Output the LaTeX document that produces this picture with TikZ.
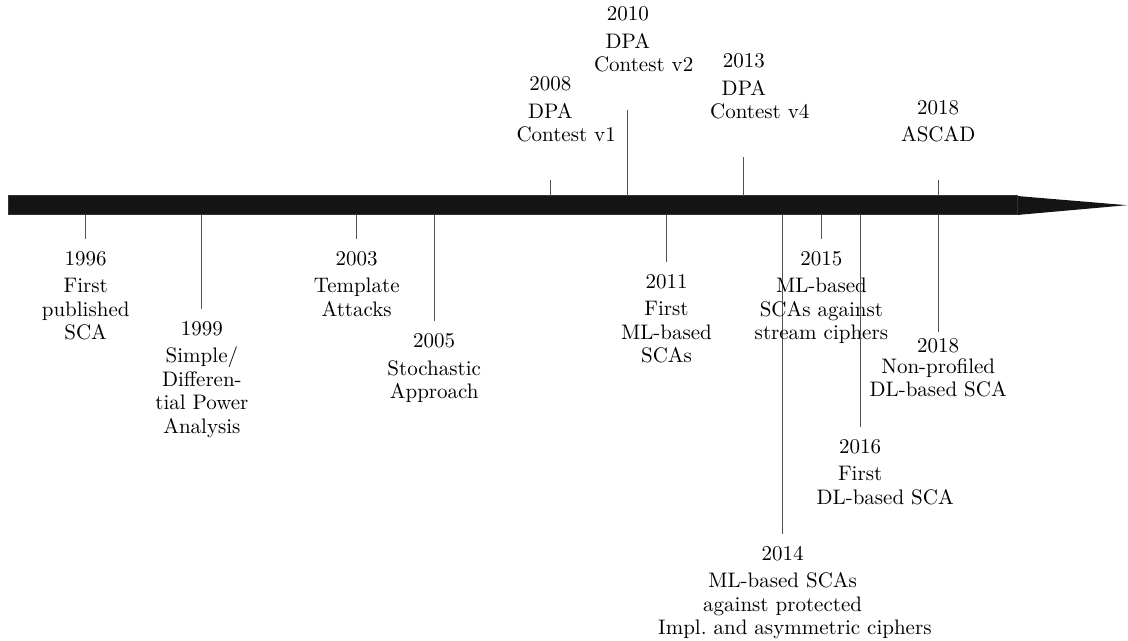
\documentclass[tikz,border=0pt]{standalone}
% event label fonts
\newcommand{\evfont}{\fontsize{10.5pt}{11.75pt}\selectfont}
\newcommand{\evfonttight}{\fontsize{10.5pt}{11.35pt}\selectfont}
\begin{document}
\begin{tikzpicture}[x=0.5pt, y=-0.5pt,
  barfill/.style={fill=black!92, draw=black!80, line width=0.5pt},
  tipfill/.style={fill=black!92},
  tick/.style={draw=black!68, line width=0.55pt},
  evbelow/.style={anchor=north, align=center, inner xsep=0pt, inner ysep=6pt, font=\evfont},
  evbelowtight/.style={anchor=north, align=center, inner xsep=0pt, inner ysep=3pt, font=\evfonttight},
  evabove/.style={anchor=south, align=center, inner xsep=0pt, inner ysep=18.7pt, font=\evfont},
]
\useasboundingbox (0,0) rectangle (1128,641);

% time axis with its arrow head
\path[tipfill] (1017,196) -- (1127,205.2) -- (1017,215) -- cycle;
\path[barfill] (8,196) rectangle (1017,215);

% ---- events below the axis ----
\coordinate (t1996) at (85.7,215);
\node[evbelow] (e1996) at (85.7,239) {1996\\[2pt]First\\published\\SCA};
\draw[tick] (t1996) -- (e1996.north);

\coordinate (t1999) at (201.9,215);
\node[evbelow] (e1999) at (201.9,309) {1999\\[2pt]Simple/\\Differen-\\tial Power\\Analysis};
\draw[tick] (t1999) -- (e1999.north);

\coordinate (t2003) at (356.7,215);
\node[evbelow] (e2003) at (356.7,239) {2003\\[2pt]Template\\Attacks};
\draw[tick] (t2003) -- (e2003.north);

\coordinate (t2005) at (434.2,215);
\node[evbelow] (e2005) at (434.2,321.5) {2005\\[2pt]Stochastic\\Approach};
\draw[tick] (t2005) -- (e2005.north);

\coordinate (t2011) at (666.5,215);
\node[evbelow] (e2011) at (666.5,262) {2011\\[2pt]First\\ML-based\\SCAs};
\draw[tick] (t2011) -- (e2011.north);

\coordinate (t2014) at (782.6,215);
\node[evbelow, text width=124.4pt] (e2014) at (782.6,533.5)
  {2014\\[2pt]ML-based SCAs\\against protected\\\mbox{Impl.\ and asymmetric ciphers}};
\draw[tick] (t2014) -- (e2014.north);

\coordinate (t2015) at (821.4,215);
\node[evbelow] (e2015) at (821.4,239) {2015\\[2pt]ML-based\\SCAs against\\stream ciphers};
\draw[tick] (t2015) -- (e2015.north);

\coordinate (t2016) at (860.1,215);
\node[evbelow, text width=43.5pt] (e2016) at (860.1,427) {2016\\[2pt]First\\\mbox{DL-based SCA}};
\draw[tick] (t2016) -- (e2016.north);

\coordinate (t2018b) at (938.2,215);
\node[evbelowtight] (e2018b) at (938.2,332.5) {2018\\[-0.85pt]Non-profiled\\DL-based SCA};
\draw[tick] (t2018b) -- (e2018b.north);

% ---- events above the axis ----
\coordinate (t2008) at (550.3,196);
\node[evabove, text width=33.8pt] (e2008) at (550.3,180) {2008\\[2pt]DPA\\\mbox{Contest v1}};
\draw[tick] (t2008) -- (e2008.south);

\coordinate (t2010) at (627.8,196);
\node[evabove, text width=33.8pt] (e2010) at (627.8,110) {2010\\[2pt]DPA\\\mbox{Contest v2}};
\draw[tick] (t2010) -- (e2010.south);

\coordinate (t2013) at (743.9,196);
\node[evabove, text width=33.8pt] (e2013) at (743.9,157) {2013\\[2pt]DPA\\\mbox{Contest v4}};
\draw[tick] (t2013) -- (e2013.south);

\coordinate (t2018a) at (938.2,196);
\node[evabove] (e2018a) at (938.2,180) {2018\\[2pt]ASCAD};
\draw[tick] (t2018a) -- (e2018a.south);
\end{tikzpicture}
\end{document}
